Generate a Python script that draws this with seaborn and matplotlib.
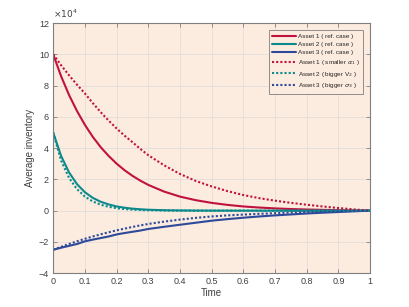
import matplotlib
matplotlib.use("Agg")
import matplotlib.pyplot as plt
import numpy as np
import pandas as pd
import seaborn as sns

# time grid (finer at the start where the curves are steep)
time = [0, 0.025, 0.05, 0.075, 0.1, 0.125, 0.15, 0.175, 0.2, 0.225, 0.25, 0.275, 0.3,
        0.35, 0.4, 0.45, 0.5, 0.55, 0.6, 0.65, 0.7, 0.75, 0.8, 0.85, 0.9, 0.95, 1.0]

# average inventory, in units of 1e4
asset1_ref = [10, 8.6, 7.4, 6.38, 5.49, 4.72, 4.06, 3.5, 3.01, 2.59, 2.23, 1.92, 1.65,
              1.22, 0.9, 0.67, 0.5, 0.37, 0.27, 0.2, 0.146, 0.105, 0.075, 0.052, 0.032, 0.015, 0]
asset2_ref = [5, 3.5, 2.45, 1.7, 1.18, 0.82, 0.57, 0.4, 0.27, 0.19, 0.13, 0.09, 0.06,
              0.03, 0.014, 0.007, 0.003, 0.002, 0.001, 0, 0, 0, 0, 0, 0, 0, 0]
asset3_ref = [-2.5, -2.37, -2.25, -2.13, -1.96, -1.85, -1.75, -1.65, -1.52, -1.43, -1.35, -1.27, -1.17,
              -1.03, -0.9, -0.77, -0.64, -0.54, -0.45, -0.37, -0.3, -0.24, -0.18, -0.13, -0.085, -0.04, 0]
asset1_small_alpha = [10, 9.3, 8.66, 8.06, 7.5, 6.88, 6.3, 5.76, 5.26, 4.8, 4.38, 3.95, 3.55,
                      2.9, 2.35, 1.9, 1.55, 1.25, 1.0, 0.8, 0.64, 0.5, 0.38, 0.27, 0.17, 0.08, 0]
asset2_big_v = [5, 3.2, 2.1, 1.38, 0.9, 0.59, 0.38, 0.25, 0.16, 0.1, 0.066, 0.043, 0.028,
                0.012, 0.005, 0.002, 0, 0, 0, 0, 0, 0, 0, 0, 0, 0, 0]
asset3_big_sigma = [-2.5, -2.31, -2.13, -1.96, -1.8, -1.65, -1.51, -1.38, -1.26, -1.15, -1.04, -0.94, -0.85,
                    -0.7, -0.57, -0.46, -0.37, -0.3, -0.25, -0.2, -0.16, -0.12, -0.09, -0.065, -0.04, -0.02, 0]

labels = ["Asset 1 ( ref. case )", "Asset 2 ( ref. case )", "Asset 3 ( ref. case )",
          r"Asset 1 ( smaller $\alpha_1$ )", r"Asset 2 ( bigger V$_2$ )", r"Asset 3 ( bigger $\sigma_3$ )"]
series = [asset1_ref, asset2_ref, asset3_ref, asset1_small_alpha, asset2_big_v, asset3_big_sigma]

RED = "#C0123F"
TEAL = "#0B8A8C"
BLUE = "#2D4A9A"
colors = [RED, TEAL, BLUE, RED, TEAL, BLUE]
styles = ["-", "-", "-", (0, (1, 1)), (0, (1, 1)), (0, (1, 1))]

sns.set_theme(style="ticks")
plt.rcParams["font.family"] = ["Liberation Sans", "DejaVu Sans"]
plt.rcParams["mathtext.fontset"] = "dejavusans"

fig = plt.figure(figsize=(4.09, 3.07), dpi=100)
ax = fig.add_axes([0.13, 0.11, 0.775, 0.815])
ax.set_facecolor("#FCEBDF")

for values, label, color, ls in zip(series, labels, colors, styles):
    df = pd.DataFrame({"Time": time, "Inventory": values})
    sns.lineplot(data=df, x="Time", y="Inventory", ax=ax, color=color, linestyle=ls,
                 linewidth=1.5, label=label)

ax.set_xlim(0, 1)
ax.set_ylim(-4, 12)
ax.set_xticks(np.arange(0, 1.01, 0.1))
ax.set_xticklabels(["0", "0.1", "0.2", "0.3", "0.4", "0.5", "0.6", "0.7", "0.8", "0.9", "1"])
ax.set_yticks(np.arange(-4, 12.1, 2))
ax.grid(True, color="#E3DDD8", linewidth=0.6)
ax.set_axisbelow(True)

for spine in ax.spines.values():
    spine.set_color("#7F7F7F")
    spine.set_linewidth(0.8)
ax.tick_params(direction="in", length=3, width=0.6, color="#7F7F7F", labelsize=6.5,
               labelcolor="#404040", top=True, right=True, pad=3)

ax.set_xlabel("Time", fontsize=7, color="#404040", labelpad=1)
ax.set_ylabel("Average inventory", fontsize=7, color="#404040", labelpad=3)
ax.text(0.0, 1.012, r"$\times10^4$", transform=ax.transAxes, fontsize=6.5, color="#404040",
        ha="left", va="bottom")

leg = ax.legend(loc="upper right", bbox_to_anchor=(0.977, 0.971), borderaxespad=0,
                fontsize=4.6, frameon=True, fancybox=False, handlelength=3.7,
                labelspacing=0.42, borderpad=0.5, handletextpad=0.35)
leg.get_frame().set_facecolor("#FCEBDF")
leg.get_frame().set_edgecolor("#7F7F7F")
leg.get_frame().set_linewidth(0.6)
leg.get_frame().set_alpha(1)

fig.savefig("out.png", dpi=100)
